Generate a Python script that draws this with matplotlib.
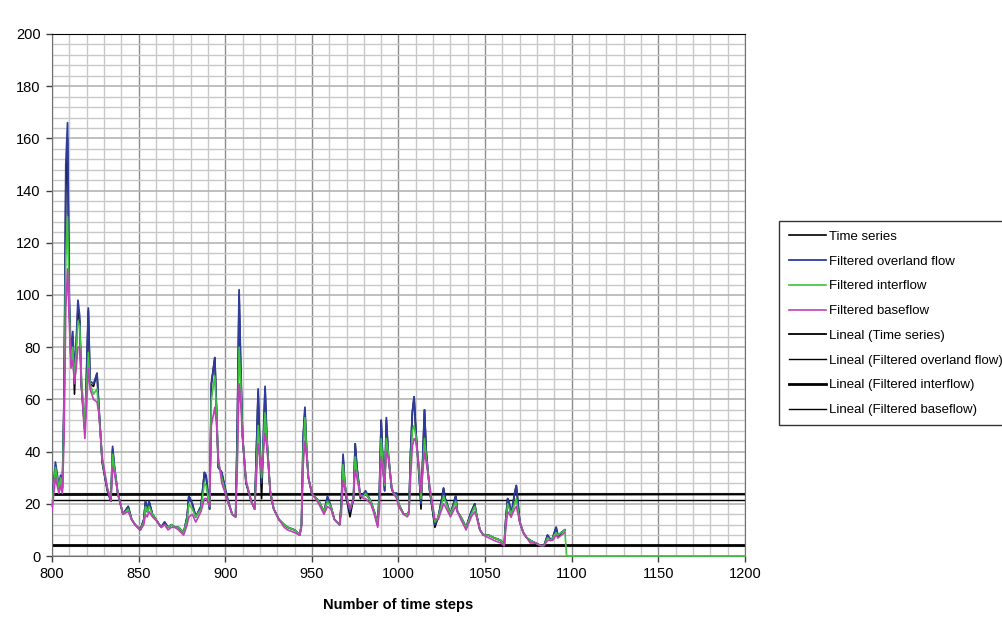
import numpy as np
import matplotlib
matplotlib.use("Agg")
from matplotlib import pyplot as plt
from matplotlib.ticker import MultipleLocator

plt.rcParams["font.family"] = ["Liberation Sans", "DejaVu Sans"]

# time step, time series, filtered overland flow, filtered interflow, filtered baseflow
steps = [800, 802, 804, 805, 806, 807, 808, 809, 810, 811, 812, 813, 814, 815, 816, 817,
         819, 820, 821, 822, 824, 826, 827, 829, 832, 834, 835, 836, 838, 841, 844, 846,
         848, 851, 853, 854, 855, 856, 858, 861, 863, 865, 867, 869, 871, 873, 876, 878,
         879, 881, 883, 886, 888, 889, 891, 892, 894, 895, 896, 898, 901, 904, 906, 907,
         908, 909, 910, 912, 915, 917, 918, 919, 920, 921, 923, 924, 926, 928, 931, 934,
         936, 940, 943, 944, 945, 946, 947, 948, 950, 954, 957, 959, 961, 963, 966, 967,
         968, 969, 970, 972, 974, 975, 976, 978, 980, 981, 984, 986, 988, 989, 990, 991,
         992, 993, 994, 996, 997, 999, 1000, 1003, 1005, 1006, 1007, 1008, 1009, 1010, 1012, 1013,
         1015, 1016, 1018, 1021, 1023, 1025, 1026, 1027, 1030, 1033, 1034, 1036, 1039, 1042, 1044, 1045,
         1047, 1049, 1052, 1055, 1059, 1061, 1062, 1063, 1064, 1065, 1067, 1068, 1070, 1072, 1074, 1076,
         1079, 1082, 1084, 1086, 1088, 1089, 1091, 1092, 1094, 1096]

time_series = [20, 34, 26, 30, 26, 60, 140, 160, 95, 75, 84, 62, 80, 95, 90, 65,
               48, 70, 94, 66, 65, 70, 58, 36, 25, 21, 41, 34, 24, 16, 19, 14,
               12, 10, 14, 21, 17, 21, 16, 13, 11, 13, 11, 12, 11, 11, 9, 15,
               23, 20, 15, 19, 32, 30, 18, 66, 76, 55, 34, 32, 22, 16, 15, 50,
               100, 70, 46, 28, 21, 18, 40, 63, 40, 22, 64, 45, 24, 18, 14, 12,
               11, 10, 8, 12, 45, 56, 40, 30, 24, 21, 17, 22, 19, 14, 12, 20,
               38, 28, 22, 15, 22, 43, 34, 22, 24, 24, 21, 17, 12, 25, 52, 35,
               25, 52, 40, 26, 24, 24, 20, 16, 16, 17, 40, 55, 61, 48, 30, 18,
               56, 40, 25, 11, 15, 22, 26, 22, 16, 23, 17, 15, 11, 17, 20, 16,
               10, 8, 8, 7, 6, 4, 15, 22, 20, 15, 24, 27, 13, 9, 7, 6,
               5, 4, 4, 8, 6, 7, 11, 7, 9, 10]

overland = [20, 36, 27, 31, 26, 62, 150, 166, 100, 76, 86, 70, 82, 98, 92, 66,
            48, 72, 95, 67, 66, 70, 58, 36, 25, 21, 42, 35, 24, 16, 19, 14,
            12, 10, 14, 21, 17, 21, 16, 13, 11, 13, 11, 12, 11, 11, 9, 15,
            23, 20, 15, 19, 32, 31, 18, 66, 76, 56, 34, 32, 23, 16, 15, 50,
            102, 72, 46, 28, 21, 18, 40, 64, 42, 28, 65, 46, 24, 18, 14, 12,
            11, 10, 8, 12, 46, 57, 40, 30, 24, 21, 17, 23, 19, 14, 12, 20,
            39, 28, 22, 17, 22, 43, 34, 23, 24, 25, 21, 17, 12, 25, 52, 36,
            25, 53, 40, 26, 24, 24, 20, 16, 16, 17, 40, 55, 61, 48, 30, 20,
            56, 40, 25, 12, 15, 22, 26, 22, 16, 23, 17, 15, 11, 17, 20, 16,
            10, 8, 8, 7, 6, 4, 15, 22, 20, 16, 24, 27, 13, 9, 7, 6,
            5, 4, 4, 8, 6, 7, 11, 8, 9, 10]

interflow = [19, 34, 26, 30, 25, 55, 115, 130, 95, 74, 80, 68, 78, 90, 88, 68,
             50, 65, 78, 66, 62, 64, 56, 37, 26, 22, 39, 34, 24, 16, 18, 14,
             12, 10, 13, 19, 17, 19, 16, 13, 11, 12, 11, 12, 11, 11, 9, 14,
             20, 18, 15, 18, 28, 27, 19, 60, 69, 55, 36, 30, 22, 16, 15, 40,
             80, 65, 46, 29, 21, 18, 35, 50, 40, 30, 55, 45, 25, 18, 14, 12,
             11, 10, 8, 12, 40, 53, 40, 30, 24, 21, 17, 21, 19, 14, 12, 18,
             35, 28, 23, 18, 22, 38, 32, 23, 23, 24, 21, 17, 12, 22, 45, 35,
             27, 45, 40, 27, 24, 23, 20, 16, 16, 17, 35, 48, 50, 46, 32, 22,
             45, 38, 26, 13, 15, 20, 23, 21, 16, 21, 17, 15, 11, 16, 19, 16,
             10, 8, 8, 7, 6, 4, 13, 20, 18, 16, 20, 22, 13, 9, 7, 6,
             5, 4, 4, 7, 6, 7, 9, 8, 9, 10]

baseflow = [17, 30, 24, 27, 24, 45, 95, 110, 90, 72, 75, 66, 72, 80, 80, 65,
            45, 58, 72, 64, 60, 59, 55, 38, 26, 21, 34, 32, 24, 16, 17, 14,
            12, 10, 12, 16, 15, 17, 15, 13, 11, 12, 10, 11, 11, 10, 8, 12,
            15, 16, 13, 17, 22, 22, 19, 50, 57, 50, 38, 28, 22, 16, 15, 35,
            66, 58, 45, 29, 21, 18, 30, 43, 38, 32, 47, 42, 25, 18, 14, 11,
            10, 9, 8, 11, 35, 44, 38, 30, 24, 20, 16, 19, 18, 14, 12, 16,
            29, 26, 23, 18, 22, 33, 30, 23, 22, 22, 20, 16, 11, 18, 38, 33,
            28, 40, 38, 27, 24, 22, 19, 16, 15, 16, 30, 42, 45, 44, 34, 24,
            40, 36, 27, 14, 14, 18, 20, 19, 15, 19, 17, 14, 10, 15, 17, 15,
            10, 8, 7, 6, 5, 4, 11, 17, 16, 15, 18, 19, 13, 9, 7, 5,
            5, 4, 4, 6, 6, 6, 8, 7, 8, 9]

# interflow series carries on at zero after the record ends
interflow_tail_steps = [1097, 1200]
interflow_tail = [0, 0]

# linear trend lines (start value at 800, end value at 1200)
trend_labels = ["Lineal (Time series)", "Lineal (Filtered overland flow)",
                "Lineal (Filtered interflow)", "Lineal (Filtered baseflow)"]
trend_start = [23.6, 23.3, 4.3, 21.4]
trend_end = [23.6, 23.5, 4.3, 21.4]
trend_widths = [1.3, 1.0, 2.0, 1.0]

fig = plt.figure(figsize=(10.03, 6.2), dpi=100)
ax = fig.add_axes([0.0518, 0.1032, 0.691, 0.8420])

ax.plot(steps, time_series, color="black", lw=1.2, label="Time series", zorder=3)
ax.plot(steps, overland, color="#2e3c9c", lw=1.3, label="Filtered overland flow", zorder=3.2)
ax.plot(steps + interflow_tail_steps, interflow + interflow_tail,
        color="#3cc43c", lw=1.2, label="Filtered interflow", zorder=4, clip_on=False)
ax.plot(steps, baseflow, color="#c040b8", lw=1.2, label="Filtered baseflow", zorder=5)

for label, y0, y1, w in zip(trend_labels, trend_start, trend_end, trend_widths):
    ax.plot([800, 1200], [y0, y1], color="black", lw=w, label=label, zorder=2)

ax.set_xlim(800, 1200)
ax.set_ylim(0, 200)
ax.xaxis.set_major_locator(MultipleLocator(50))
ax.xaxis.set_minor_locator(MultipleLocator(10))
ax.yaxis.set_major_locator(MultipleLocator(20))
ax.yaxis.set_minor_locator(MultipleLocator(4))

ax.grid(which="minor", color="#c8c8c8", lw=1.0)
ax.grid(which="major", axis="y", color="#b4b4b4", lw=1.2)
ax.grid(which="major", axis="x", color="#8c8c8c", lw=1.0)
ax.set_axisbelow(True)

for side in ["left", "bottom", "right"]:
    ax.spines[side].set_color("#707070")
ax.spines["top"].set_color("black")

ax.tick_params(axis="both", which="minor", length=0)
ax.tick_params(axis="both", which="major", length=4, width=1, color="#404040",
               labelsize=10.5, pad=4)
ax.set_xlabel("Number of time steps", fontsize=10.5, fontweight="bold", labelpad=12)

leg = ax.legend(loc="upper left", bbox_to_anchor=(0.777, 0.643),
                bbox_transform=fig.transFigure, frameon=True, fancybox=False,
                fontsize=9.5, handlelength=2.8, handletextpad=0.3,
                labelspacing=0.95, borderpad=0.7, borderaxespad=0)
leg.get_frame().set_edgecolor("black")
leg.get_frame().set_linewidth(1.0)

fig.savefig("out.png", dpi=100)
